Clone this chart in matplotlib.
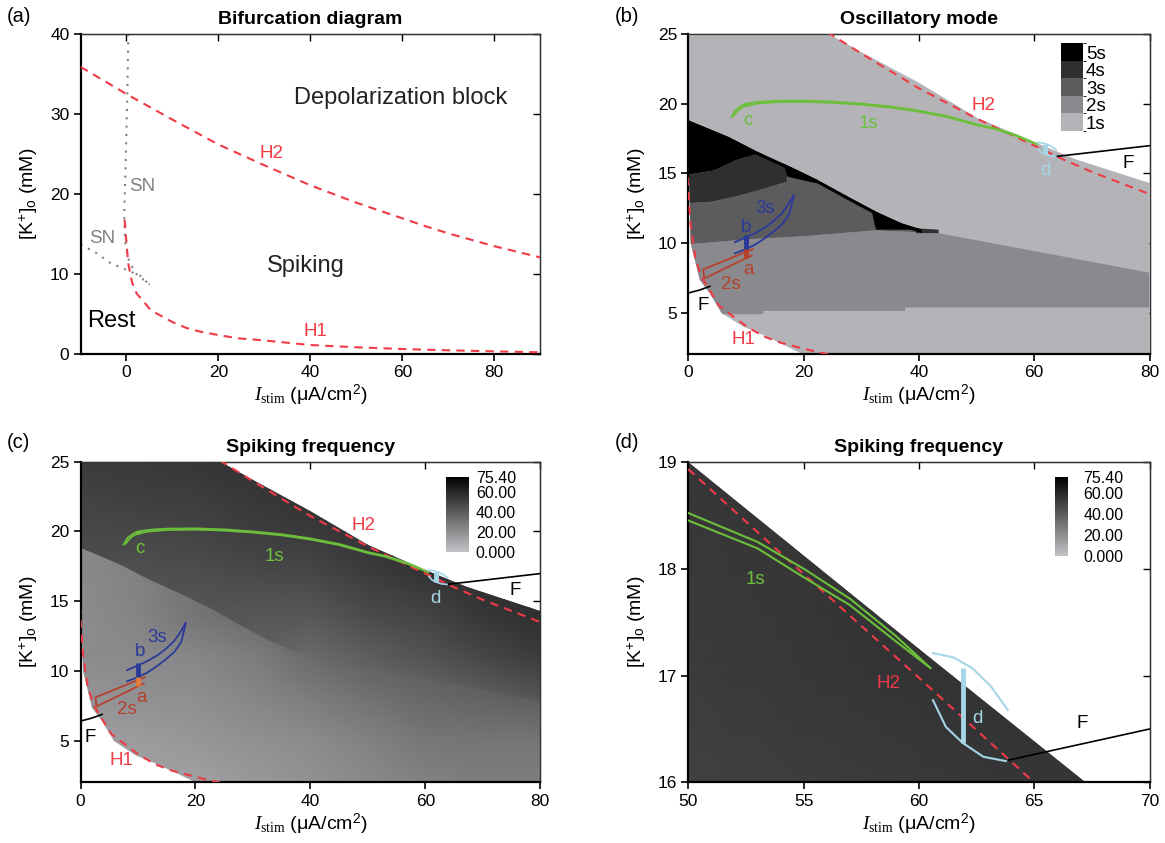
import matplotlib
matplotlib.use("Agg")
import matplotlib.pyplot as plt
import numpy as np
from matplotlib.patches import Polygon
from matplotlib.colors import ListedColormap, BoundaryNorm, LinearSegmentedColormap, Normalize
from matplotlib.cm import ScalarMappable

plt.rcParams["font.family"] = ["Liberation Sans", "DejaVu Sans"]
plt.rcParams["mathtext.fontset"] = "custom"
plt.rcParams["mathtext.rm"] = "Liberation Sans"
plt.rcParams["mathtext.it"] = "Liberation Serif:italic"
plt.rcParams["mathtext.sf"] = "Liberation Serif"
plt.rcParams["mathtext.bf"] = "Liberation Sans:bold"

# Hopf curves H1, H2
h1_x = [-0.4, 0.0, 0.4, 1.2, 2.2, 3.4, 5.3, 7.2, 10.1, 13.0, 15.9, 20.0, 24.2, 28.7, 40, 50, 60, 70, 80, 90]
h1_y = [16.8, 13.8, 11.3, 9.0, 7.6, 6.8, 5.5, 4.9, 4.0, 3.3, 2.85, 2.4, 2.0, 1.8, 1.16, 0.88, 0.66, 0.5, 0.37, 0.25]
h2_x = [-10, 0, 10, 20, 30, 40, 50, 55, 60, 65, 70, 80, 90]
h2_y = [35.9, 32.5, 29.3, 26.2, 23.6, 21.1, 18.93, 17.95, 16.98, 16.0, 15.1, 13.5, 12.1]

# saddle-node curves
sn1_x = [0.4, 0.15, -0.2, -0.5, -0.3, 0.6, 2.2, 5.0]
sn1_y = [40, 31.7, 23.4, 17.2, 14.0, 11.5, 10.0, 8.7]
sn2_x = [-10, -6.7, -3.5, -0.2, 3.0, 5.0]
sn2_y = [13.7, 12.7, 11.4, 10.6, 9.8, 8.7]

# fold lines F
f1_x = [0, 2.0, 3.75]
f1_y = [6.4, 6.62, 6.88]
f2_x = [63.9, 70, 80]
f2_y = [16.21, 16.5, 16.98]

# edge of the spiking region (top edge, then left/bottom edge)
edge_top_x = [0, 24.4, 30, 40, 50, 60, 67.2, 80]
edge_top_y = [25, 25, 23.7, 21.5, 19.0, 17.25, 16.0, 14.3]
edge_low_x = [80, 22.0, 19.9, 13.6, 9.5, 5.8, 3.75, 2.0, 0.4, 0.15, 0.0]
edge_low_y = [1.5, 1.5, 2.0, 3.27, 4.0, 4.95, 6.38, 7.34, 10.0, 14.5, 16.0]

# upper boundary of the multi-spike zone
mt_x = [0, 7, 11.7, 17.5, 22.5, 27.8, 33, 37, 40.5, 43.4, 80]
mt_y = [18.8, 17.6, 16.6, 15.5, 14.5, 13.3, 12.15, 11.4, 10.95, 10.8, 7.86]

# oscillatory mode zones (1s..5s)
mode_names = ["1s", "2s", "3s", "4s", "5s"]
mode_colors = ["#b4b4b8", "#8a8a8e", "#5c5c5e", "#2e3030", "#000000"]
mode2_poly = [(0, 9.9), (10, 10.25), (20, 10.48), (32.4, 10.9), (43.4, 10.7), (80, 7.86), (80, 5.36),
              (37.6, 5.36), (37.6, 5.12), (13, 5.12), (13, 4.88), (0, 4.88)]
mode3_poly = [(0, 12.85), (4, 12.95), (8, 13.3), (12, 13.75), (17.2, 14.4), (17.5, 15.5), (22.5, 14.5),
              (27.8, 13.3), (33, 12.15), (37, 11.4), (40.5, 10.95), (43.4, 10.8), (43.4, 10.7),
              (32.4, 10.9), (20, 10.48), (10, 10.25), (0, 9.9)]
mode4_poly = [(0, 14.9), (4.5, 15.2), (8.4, 15.95), (11.7, 16.35), (11.7, 16.6), (17.2, 15.55),
              (17.2, 14.4), (12, 13.75), (8, 13.3), (4, 12.95), (0, 12.85)]
mode4_tip = [(39.5, 10.7), (39.5, 11.05), (43.4, 10.95), (43.4, 10.7)]
mode5_blob = [(0, 18.8), (7, 17.6), (11.7, 16.6), (11.7, 16.35), (8.4, 15.95), (4.5, 15.2), (0, 14.9)]
mode5_tongue = [(16.5, 15.7), (17.2, 14.75), (22.0, 14.3), (22.5, 14.5)]
mode5_tip = [(31.8, 12.35), (32.4, 11.2), (32.6, 10.95), (40.5, 10.95), (37, 11.4), (33, 12.15)]

# spiking frequency (Hz) on a coarse grid, above / below the mode boundary
fx = [0, 10, 20, 30, 40, 50, 60, 70, 80]
fy = [2, 5, 8, 11, 14, 17, 20, 23, 25]
freq_high = [
    [40, 40, 40, 34, 30, 30, 30, 30, 30],
    [40, 40, 40, 34, 30, 30, 31, 31, 31],
    [40, 40, 40, 36, 30, 32, 35, 38, 42],
    [42, 42, 42, 38, 34, 39, 43, 48, 52],
    [44, 43, 42, 42, 41, 46, 49, 54, 57],
    [46, 44, 45, 47, 48, 52, 55, 57, 57],
    [47, 48, 49, 51, 53, 55, 57, 57, 57],
    [50, 51, 52, 54, 56, 57, 57, 57, 57],
    [52, 53, 54, 56, 57, 57, 57, 57, 57],
]
freq_low = [
    [12, 12, 13, 16, 19, 22, 25, 27, 27],
    [14, 15, 17, 19, 21, 25, 29, 30, 30],
    [18, 19, 20, 23, 27, 31, 35, 37, 39],
    [21, 22, 23, 27, 34, 38, 40, 42, 44],
    [21, 24, 30, 34, 38, 42, 45, 47, 48],
    [22, 25, 31, 35, 40, 44, 47, 49, 50],
    [22, 25, 31, 35, 40, 44, 47, 49, 50],
    [22, 25, 31, 35, 40, 44, 47, 49, 50],
    [22, 25, 31, 35, 40, 44, 47, 49, 50],
]
freq_max = 75.4
freq_ticks = [0, 20, 40, 60, 75.4]
freq_ticklabels = ["0.000", "20.00", "40.00", "60.00", "75.40"]

# trajectories a-d
ta_x = [11.2, 2.6, 2.8, 11.0]
ta_y = [9.55, 8.1, 7.45, 9.1]
tb_up_x = [8.1, 10, 11.7, 13.5, 14.9, 16.3, 17.5, 18.3]
tb_up_y = [10.05, 10.4, 10.72, 11.15, 11.6, 12.15, 12.85, 13.45]
tb_lo_x = [18.3, 17.5, 16.3, 14.9, 13.5, 11.7, 10, 8.1]
tb_lo_y = [13.35, 12.05, 11.35, 10.85, 10.4, 9.9, 9.55, 9.25]
tc_up_x = [7.5, 8.2, 9.2, 10, 12, 15, 20, 25, 30, 35, 40, 45, 50, 53, 55, 57, 59, 60.5]
tc_up_y = [19.05, 19.55, 19.85, 20.0, 20.12, 20.2, 20.22, 20.15, 20.0, 19.8, 19.5, 19.1, 18.52, 18.25, 18.0, 17.72, 17.37, 17.07]
tc_lo_x = [60.5, 59, 57, 55, 53, 50, 45, 40, 35, 30, 25, 20, 15, 12, 10, 9.2, 8.5, 7.8]
tc_lo_y = [17.07, 17.32, 17.66, 17.92, 18.19, 18.45, 19.02, 19.42, 19.72, 19.92, 20.06, 20.13, 20.1, 20.0, 19.85, 19.7, 19.45, 19.1]
td_up_x = [60.61, 61.5, 62.31, 63.12, 63.85]
td_up_y = [17.21, 17.17, 17.07, 16.9, 16.68]
td_lo_x = [60.61, 61.17, 61.9, 62.8, 63.77]
td_lo_y = [16.77, 16.52, 16.37, 16.24, 16.2]
mark_x = [10.0, 10.0, 10.0, 61.9]
mark_lo = [8.95, 9.55, 19.85, 16.37]
mark_hi = [9.6, 10.6, 20.05, 17.07]

RED = "#ee3b46"
GREEN = "#6cbf3a"
BLUE = "#2b3a9a"
BROWN = "#b5412c"
LBLUE = "#a4d6e6"
GRAY = "#808080"


def style_axes(ax, xt, yt):
    ax.set_xticks(xt)
    ax.set_yticks(yt)
    ax.tick_params(direction="out", length=5, width=1.2, labelsize=12.5, pad=3)
    for s in ["left", "bottom"]:
        ax.spines[s].set_linewidth(1.6)
    for s in ["top", "right"]:
        ax.spines[s].set_linewidth(0.9)
        ax.spines[s].set_color("#333333")
    top = ax.secondary_xaxis("top")  # inward ticks on top
    top.set_xticks(xt)
    top.set_xticklabels([""] * len(xt))
    top.tick_params(direction="in", length=5, width=1.0)
    top.spines["top"].set_linewidth(0.9)
    right = ax.secondary_yaxis("right")  # inward ticks on right
    right.set_yticks(yt)
    right.set_yticklabels([""] * len(yt))
    right.tick_params(direction="in", length=5, width=1.0)
    right.spines["right"].set_linewidth(0.9)
    ax.set_xlabel(r"$I_{\mathsf{stim}}$ (μA/cm$^2$)", fontsize=14, labelpad=2)
    ax.set_ylabel(r"[K$^{+}$]$_{\mathrm{o}}$ (mM)", fontsize=14, labelpad=7)


def spike_vertices():
    top = np.column_stack([edge_top_x, edge_top_y])
    low = np.column_stack([edge_low_x, edge_low_y])
    return np.vstack([top, low])


def high_vertices():
    mt = np.column_stack([mt_x, mt_y])
    top = np.column_stack([edge_top_x, edge_top_y])[::-1]
    return np.vstack([mt, top])


def clip_patch(ax, verts):
    p = Polygon(verts, closed=True, facecolor="none", edgecolor="none", transform=ax.transData)
    ax.add_patch(p)
    return p


def draw_freq(ax, cmap):
    X, Y = np.meshgrid(fx, fy)
    # low field under the whole region, high field on top above the mode boundary
    for field, verts in [(freq_low, spike_vertices()), (freq_high, high_vertices())]:
        m = ax.pcolormesh(X, Y, np.array(field, dtype=float), shading="gouraud",
                          cmap=cmap, vmin=0, vmax=freq_max, zorder=1)
        m.set_clip_path(clip_patch(ax, verts))


def draw_overlays(ax, lab):
    lw = 1.3
    ax.plot(h1_x, h1_y, color=RED, lw=1.5, ls=(0, (4, 3)), zorder=3)
    ax.plot(h2_x, h2_y, color=RED, lw=1.5, ls=(0, (4, 3)), zorder=3)
    ax.plot(f1_x, f1_y, color="black", lw=1.2, zorder=3)
    ax.plot(f2_x, f2_y, color="black", lw=1.2, zorder=3)
    ax.plot(ta_x, ta_y, color=BROWN, lw=lw, zorder=4)
    ax.plot(tb_up_x + tb_lo_x, tb_up_y + tb_lo_y, color=BLUE, lw=lw, zorder=4)
    ax.plot(tc_up_x, tc_up_y, color=GREEN, lw=lw, zorder=4)
    ax.plot(tc_lo_x, tc_lo_y, color=GREEN, lw=lw, zorder=4)
    ax.plot(td_up_x, td_up_y, color=LBLUE, lw=1.2, zorder=4)
    ax.plot(td_lo_x, td_lo_y, color=LBLUE, lw=1.2, zorder=4)
    ax.vlines(mark_x, mark_lo, mark_hi, colors=[lab["acol"], BLUE, GREEN, LBLUE], lw=3.5, zorder=5)
    kw = dict(fontsize=13.5, ha="center", va="center", zorder=6)
    ax.text(*lab["H2"], "H2", color=RED, **kw)
    ax.text(*lab["H1"], "H1", color=RED, **kw)
    ax.text(*lab["F1"], "F", color="black", **kw)
    ax.text(*lab["F2"], "F", color="black", **kw)
    ax.text(*lab["c"], "c", color=GREEN, **kw)
    ax.text(*lab["1s"], "1s", color=GREEN, **kw)
    ax.text(*lab["d"], "d", color=LBLUE, **kw)
    ax.text(*lab["3s"], "3s", color=BLUE, **kw)
    ax.text(*lab["b"], "b", color=BLUE, **kw)
    ax.text(*lab["a"], "a", color=BROWN, **kw)
    ax.text(*lab["2s"], "2s", color=BROWN, **kw)


def freq_colorbar(fig, ax, rect, cmap, pad):
    cax = ax.inset_axes(rect)
    cb = fig.colorbar(ScalarMappable(norm=Normalize(0, freq_max), cmap=cmap), cax=cax, ticks=freq_ticks)
    cb.set_ticklabels(freq_ticklabels)
    cb.outline.set_visible(False)
    cax.tick_params(length=0, labelsize=11.5, pad=pad)


def main():
    fig = plt.figure(figsize=(11.65, 8.43), dpi=100)
    ax_a = fig.add_axes([0.0691, 0.5797, 0.3947, 0.3800])
    ax_b = fig.add_axes([0.5908, 0.5797, 0.3959, 0.3800])
    ax_c = fig.add_axes([0.0691, 0.0718, 0.3947, 0.3805])
    ax_d = fig.add_axes([0.5908, 0.0718, 0.3959, 0.3805])
    cmap_freq = LinearSegmentedColormap.from_list("freq", ["#c2c2c6", "#000000"])

    # (a) bifurcation diagram
    ax = ax_a
    ax.plot(sn1_x, sn1_y, color=GRAY, lw=1.5, ls=(0, (1, 3)), zorder=2)
    ax.plot(sn2_x, sn2_y, color=GRAY, lw=1.5, ls=(0, (1, 3)), zorder=2)
    ax.plot(h1_x, h1_y, color=RED, lw=1.5, ls=(0, (4, 3)), zorder=3)
    ax.plot(h2_x, h2_y, color=RED, lw=1.5, ls=(0, (4, 3)), zorder=3)
    ax.set_xlim(-10, 90)
    ax.set_ylim(0, 40)
    style_axes(ax, [0, 20, 40, 60, 80], [0, 10, 20, 30, 40])
    ax.text(59.6, 32.0, "Depolarization block", fontsize=17, ha="center", va="center", color="#222222")
    ax.text(39.1, 11.0, "Spiking", fontsize=17, ha="center", va="center", color="#222222")
    ax.text(-3.2, 4.2, "Rest", fontsize=17, ha="center", va="center", color="black")
    ax.text(31.5, 25.1, "H2", fontsize=13.5, ha="center", va="center", color=RED)
    ax.text(41.1, 2.9, "H1", fontsize=13.5, ha="center", va="center", color=RED)
    ax.text(3.4, 21.0, "SN", fontsize=13.5, ha="center", va="center", color=GRAY)
    ax.text(-5.3, 14.5, "SN", fontsize=13.5, ha="center", va="center", color=GRAY)
    ax.set_title("Bifurcation diagram", fontsize=14, fontweight="bold", pad=7)

    # (b) oscillatory mode
    ax = ax_b
    clip = clip_patch(ax, spike_vertices())
    ax.add_patch(Polygon(spike_vertices(), closed=True, facecolor=mode_colors[0], edgecolor="none", zorder=1))
    band = np.vstack([np.column_stack([mt_x[:9], mt_y[:9]]),
                      np.column_stack([mt_x[:9], np.array(mt_y[:9]) - 0.25])[::-1]])
    pieces = [(mode2_poly, 1), (mode3_poly, 2), (mode4_poly, 3), (mode4_tip, 3),
              (mode5_blob, 4), (mode5_tongue, 4), (mode5_tip, 4), (band, 4)]
    for verts, k in pieces:
        p = Polygon(verts, closed=True, facecolor=mode_colors[k], edgecolor="none", zorder=1.5)
        ax.add_patch(p)
        p.set_clip_path(clip)
    lab_b = {"H2": (51.2, 19.9), "H1": (9.5, 3.05), "F1": (2.6, 5.48), "F2": (76.3, 15.7),
             "c": (10.4, 18.8), "1s": (31.2, 18.6), "d": (61.9, 15.2), "3s": (13.4, 12.5),
             "b": (10.0, 11.1), "a": (10.4, 8.1), "2s": (7.4, 7.0), "acol": BROWN}
    draw_overlays(ax, lab_b)
    ax.set_xlim(0, 80)
    ax.set_ylim(2, 25)
    style_axes(ax, [0, 20, 40, 60, 80], [5, 10, 15, 20, 25])
    ax.set_title("Oscillatory mode", fontsize=14, fontweight="bold", pad=7)
    cax = ax.inset_axes([0.808, 0.697, 0.0484, 0.274])
    norm = BoundaryNorm([0.5, 1.5, 2.5, 3.5, 4.5, 5.5], 5)
    cb = fig.colorbar(ScalarMappable(norm=norm, cmap=ListedColormap(mode_colors)), cax=cax, ticks=[1, 2, 3, 4, 5])
    cb.set_ticklabels(mode_names)
    cb.outline.set_visible(False)
    cax.tick_params(length=0, labelsize=13.5, pad=2)

    # (c) spiking frequency
    ax = ax_c
    draw_freq(ax, cmap_freq)
    lab_c = {"H2": (49.3, 20.4), "H1": (7.1, 3.6), "F1": (1.7, 5.2), "F2": (75.6, 15.8),
             "c": (10.3, 18.8), "1s": (33.7, 18.2), "d": (61.8, 15.2), "3s": (13.3, 12.4),
             "b": (10.3, 11.4), "a": (10.6, 8.1), "2s": (8.0, 7.2), "acol": "#e07d3c"}
    draw_overlays(ax, lab_c)
    ax.set_xlim(0, 80)
    ax.set_ylim(2, 25)
    style_axes(ax, [0, 20, 40, 60, 80], [5, 10, 15, 20, 25])
    ax.set_title("Spiking frequency", fontsize=14, fontweight="bold", pad=7)
    freq_colorbar(fig, ax, [0.794, 0.7195, 0.0507, 0.234], cmap_freq, 5)

    # (d) zoom near H2
    ax = ax_d
    draw_freq(ax, cmap_freq)
    ax.plot(h2_x, h2_y, color=RED, lw=1.5, ls=(0, (4, 3)), zorder=3)
    ax.plot(f2_x, f2_y, color="black", lw=1.2, zorder=3)
    ax.plot(tc_up_x, tc_up_y, color=GREEN, lw=1.5, zorder=4)
    ax.plot(tc_lo_x, tc_lo_y, color=GREEN, lw=1.5, zorder=4)
    ax.plot(td_up_x, td_up_y, color=LBLUE, lw=1.5, zorder=4)
    ax.plot(td_lo_x, td_lo_y, color=LBLUE, lw=1.5, zorder=4)
    ax.vlines(mark_x[3], mark_lo[3], mark_hi[3], colors=LBLUE, lw=3.5, zorder=5)
    kw = dict(fontsize=13.5, ha="center", va="center", zorder=6)
    ax.text(52.9, 17.9, "1s", color=GREEN, **kw)
    ax.text(58.7, 16.93, "H2", color=RED, **kw)
    ax.text(62.55, 16.6, "d", color=LBLUE, **kw)
    ax.text(67.1, 16.55, "F", color="black", **kw)
    ax.set_xlim(50, 70)
    ax.set_ylim(16, 19)
    style_axes(ax, [50, 55, 60, 65, 70], [16, 17, 18, 19])
    ax.set_title("Spiking frequency", fontsize=14, fontweight="bold", pad=7)
    freq_colorbar(fig, ax, [0.796, 0.706, 0.0275, 0.247], cmap_freq, 11)

    # panel letters
    for x, y, s in [(0.0057, 0.98, "(a)"), (0.528, 0.98, "(b)"), (0.0057, 0.4745, "(c)"), (0.528, 0.4745, "(d)")]:
        fig.text(x, y, s, fontsize=14.5, ha="left", va="center")

    fig.savefig("out.png", dpi=100)


if __name__ == "__main__":
    main()
